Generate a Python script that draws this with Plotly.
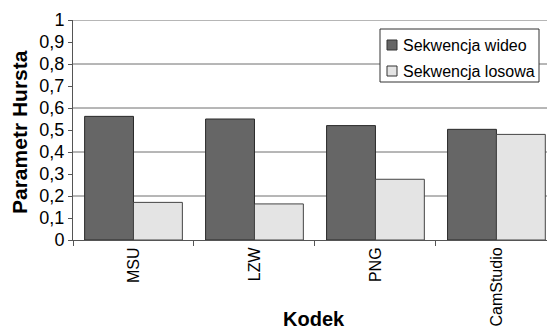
import plotly.graph_objects as go

# Hurst parameter per codec for two kinds of input sequence
codecs = ["MSU", "LZW", "PNG", "CamStudio"]
video_seq = [0.562, 0.550, 0.520, 0.503]
random_seq = [0.171, 0.164, 0.276, 0.480]
series_names = ["Sekwencja wideo", "Sekwencja losowa"]
series_colors = ["#666666", "#e4e4e4"]
y_tick_vals = [0, 0.1, 0.2, 0.3, 0.4, 0.5, 0.6, 0.7, 0.8, 0.9, 1.0]
y_tick_text = ["0", "0,1", "0,2", "0,3", "0,4", "0,5", "0,6", "0,7", "0,8", "0,9", "1"]
grid_vals = [0.2, 0.4, 0.6, 0.8, 1.0]

FONT = "Liberation Sans, Arial, sans-serif"

# plot area geometry in pixels (used to place the boxed key)
L, T, W, H = 73, 20, 474, 220


def px(x):
    return (x - L) / W


def py(y):
    return (T + H - y) / H


fig = go.Figure()
for vals, name, col, edge in [(video_seq, series_names[0], series_colors[0], "#2a2a2a"),
                              (random_seq, series_names[1], series_colors[1], "#444444")]:
    fig.add_trace(go.Bar(
        x=codecs, y=vals, name=name,
        marker=dict(color=col, line=dict(color=edge, width=1)),
    ))

# horizontal gridlines every 0.2
for g in grid_vals:
    fig.add_shape(type="line", xref="paper", yref="y", x0=0, x1=1, y0=g, y1=g,
                  line=dict(color="#6e6e6e", width=1), layer="below")

# boxed key in the upper right
fig.add_shape(type="rect", xref="paper", yref="paper",
              x0=px(380), x1=px(539), y0=py(82), y1=py(29),
              line=dict(color="#333333", width=1), fillcolor="white", layer="above")
annotations = []
for i, (name, col) in enumerate(zip(series_names, series_colors)):
    cy = 45 + 26 * i
    fig.add_shape(type="rect", xref="paper", yref="paper",
                  x0=px(387), x1=px(397), y0=py(cy + 5), y1=py(cy - 5),
                  line=dict(color="#333333", width=1), fillcolor=col, layer="above")
    annotations.append(dict(text=name, xref="paper", yref="paper",
                            x=px(401), y=py(cy), xanchor="left", yanchor="middle",
                            showarrow=False, font=dict(family=FONT, size=16)))

annotations += [
    dict(text="<b>Parametr Hursta</b>", textangle=-90, xref="paper", yref="paper",
         x=px(19), y=py(132), xanchor="center", yanchor="middle",
         showarrow=False, font=dict(family=FONT, size=21)),
    dict(text="<b>Kodek</b>", xref="paper", yref="paper",
         x=px(314), y=py(319), xanchor="center", yanchor="middle",
         showarrow=False, font=dict(family=FONT, size=20)),
]

fig.update_layout(
    width=547, height=332,
    margin=dict(l=L, r=0, t=T, b=332 - T - H),
    paper_bgcolor="white", plot_bgcolor="white",
    barmode="group", bargap=0.192, bargroupgap=0,
    font=dict(family=FONT, size=18, color="black"),
    showlegend=False,
    xaxis=dict(
        range=[-0.5, 3.418],
        tickson="boundaries", ticks="outside", ticklen=5, tickcolor="#555555",
        tickangle=-90, tickfont=dict(family=FONT, size=16),
        showline=True, linecolor="#555555", linewidth=1,
        showgrid=False, zeroline=False, fixedrange=True,
    ),
    yaxis=dict(
        range=[0, 1],
        tickmode="array", tickvals=y_tick_vals, ticktext=y_tick_text,
        ticks="outside", ticklen=4, tickcolor="#555555",
        tickfont=dict(family=FONT, size=18),
        showline=True, linecolor="#555555", linewidth=1,
        showgrid=False, zeroline=False,
    ),
    annotations=annotations,
)

fig.write_html("out.html")
